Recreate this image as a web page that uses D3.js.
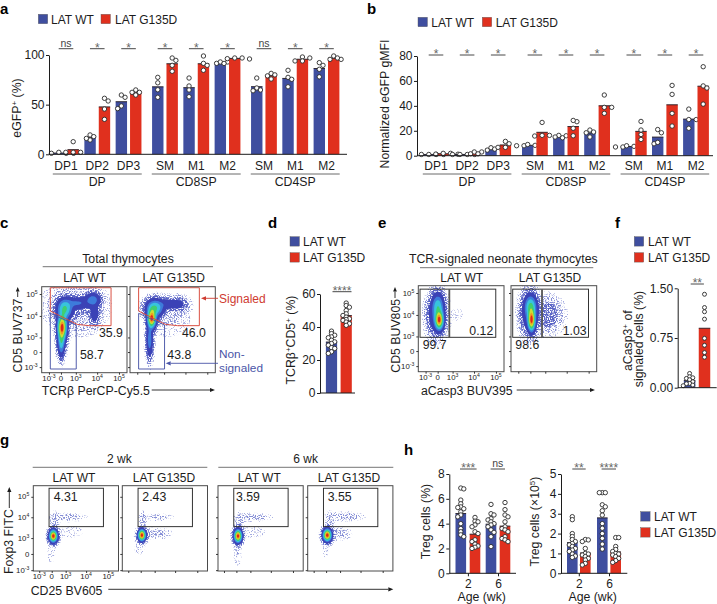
<!DOCTYPE html>
<html><head><meta charset="utf-8">
<script src="https://cdn.jsdelivr.net/npm/d3@7"></script>
<style>
html,body{margin:0;padding:0;background:#fff}
svg{display:block;font-family:"Liberation Sans",Arial,sans-serif}
text{fill:#1c1c1c}
</style></head><body><svg id="fig" width="717" height="604" viewBox="0 0 717 604"></svg>
<script>
// ---------- data ----------
const seriesNames = ["LAT WT","LAT G135D"];
const subsetLabels = ["DP1","DP2","DP3","SM","M1","M2","SM","M1","M2"];
const subsetGroups = ["DP","CD8SP","CD4SP"];

const gfpPctWT = [[1,2,1,1],[19.5,14.4,17.8,16],[57.4,59.7,46,48.7],[77.5,72,65,57.4],[76.8,68.8,64.8,58],[91.6,93,93,91.5],[76.8,66.8,64,64.8],[84.6,77.5,75.5,68],[89.6,92.3,85.6,78]];
const gfpPctG  = [[12.7,2,2,2],[53.7,56.4,45.6,35.2],[64.8,59.7,62.4,62.4],[94.6,97,89.6,83.6],[99,91.6,89.6,84.6],[96.3,97,97,96],[81.5,80,79,75.8],[98,94,94,97],[99,95.6,95.6,97]];
const gfpPctSig = ["ns","*","*","*","*","*","ns","*","*"];

const gmfiWT = [[1,1,1,1],[1,1,1,1],[4.5,6.4,5.3,4.5],[8,9,8.3,8],[14.4,16.3,16,15],[20.6,18.4,19,15],[7,8,7.5,7],[18.4,21,9.6,10.7],[37.4,29,29,22]];
const gmfiG  = [[1.3,1.9,1.9,1.2],[1.5,3,3,1.5],[9.6,11.5,6.7,6.7],[26.7,15.8,16.3,16.3],[27.3,28.3,22,16],[48.7,38.8,38.8,34],[27.5,20.6,17,13],[56.4,49.2,34,23.8],[71.4,56,54.3,41.4]];
const gmfiSig = ["*","*","*","*","*","*","*","*","*"];

const signaledWT = [37.5,36,35,34,33.5,32,31,30,29,27.5,27,25,24];
const signaledG  = [54.5,53,52,50,48,47,46,45,44.5,44,43,42,41];

const casp3WT = [.215,.165,.15,.14,.12,.09,.065,.06,.04,.03];
const casp3G  = [1.41,1.21,1.146,1.035,.745,.64,.53,.46];

const ageLabels = ["2","6"];
const tregPctWT2 = [6.87,6.8,5.9,5.6,5.35,5.3,5.2,4.95,4.7,4.55,4,3.6,3.35,3.1,2.95];
const tregPctG2  = [4.5,4.2,4.15,3.9,3.75,3.35,3.2,2.7,2.55,2.35,2.2,2.1,2.0];
const tregPctWT6 = [5.55,4.8,4.7,4.4,4.3,4.15,4,3.9,3.75,3.5,3.3,2.95,2.15];
const tregPctG6  = [5.7,5.13,4.7,4.55,4.15,3.75,3.6,3.5,3.35,2.95,2.8,2.7,2.55];
const tregNumWT2 = [2.85,2.7,2,1.85,1.7,1.6,1.5,1.43,1.35,1.25,1.17,1.1,.97,.87,.8];
const tregNumG2  = [1.7,1.68,1.6,1.25,1,.97,.92,.84,.75,.67,.5,.42];
const tregNumWT6 = [4.06,4.06,4.06,3.45,3.35,3.15,2.93,2.5,2.27,2,1.76,1.47,1.22];
const tregNumG6  = [1.8,1.8,1.35,1.2,1.1,1,.97,.92,.84,.75,.64,.55];

// flow cytometry density components on a 0-100 display channel: [x, y, sdX, sdY, weight]
const flowTCR_WT = [[24,53,3,8,1],[23,36,2.4,9,.34],[27,74,5,6.5,.42],[42,81,9,4,.14],[60,85,5,4.5,.19],[62,69,3.2,7,.09],[45,62,13,11,.006],[38,78,22,14,.01]];
const flowTCR_G  = [[25.5,63,2.8,6,1],[23,38,2.2,11,.2],[29,75,5.6,5.5,.42],[46,80,9,3.6,.1],[59,79,5,5,.03],[45,65,16,14,.005]];
const flowCasp_WT = [[24.5,60,2.8,6,1],[23,76,3.8,8,.32],[21,66,5.6,12.5,.14],[47,66,9,13,.0016]];
const flowCasp_G  = [[24,60,2.4,7,1],[23,76,3.8,7,.38],[22,68,5.6,12.5,.15],[43,66,7,10,.03],[47,66,11,13,.006]];
const flowFox_WT1 = [[23.5,41,2.6,3.9,1],[25,58,2.6,6,.011],[41,63,12,2.8,.0075],[43,46,11,5,.003],[21,22,3.5,9,.003]];
const flowFox_G1  = [[23,42,2.4,3.6,1],[24,60,2.2,5.5,.009],[42,63,11,2.6,.005],[38,44,12,4,.006],[20,26,7,9,.0016]];
const flowFox_WT2 = [[23.5,41,2.5,4.1,1],[25,58,2.6,6,.011],[42,63,12,2.8,.007],[40,46,11,5,.003],[23,20,3,9,.004]];
const flowFox_G2  = [[23,42,2.7,3.9,1],[26,58,2.8,6,.01],[45,64,12,3,.008],[36,44,9,4.5,.007],[21,24,3,8,.002]];

// gates in display channels
const gateSignaled = [[10.1,98.8],[81.3,98.8],[81.3,54.7],[55.6,54.7],[41.6,56.2],[10.1,71.7]];
const gateNonSignaled = [[10.1,69],[40.5,55.4],[40.5,4.3],[10.1,4.3]];
const gateCasp = {x0:2,x1:90.4,y0:40,y1:96,split:36.2};
const gateFox = {x0:18.5,x1:82.3,y0:52,y1:97};

const tickDecades = ["10^-3^","0","10^3^","10^4^","10^5^"];
const ticksXThy = [8.5,22.6,40,65,90.6], ticksYThy = [6.5,24,41,66,91.5];
const ticksXFox = [7,21.6,38,62,88], ticksYFox = [1,20,38.6,63,87];

// ---------- helpers ----------
const BLUE="#3f4e9f", RED="#e0301e", INK="#1c1c1c";
const svg=d3.select("#fig");
const defs=svg.append("defs");
function grain(id,offset){
  const f=defs.append("filter").attr("id",id).attr("filterUnits","userSpaceOnUse")
    .attr("x",0).attr("y",0).attr("width",717).attr("height",604).attr("color-interpolation-filters","sRGB");
  f.append("feTurbulence").attr("type","fractalNoise").attr("baseFrequency",.85).attr("numOctaves",2).attr("seed",7).attr("result","n");
  f.append("feColorMatrix").attr("in","n").attr("type","matrix")
    .attr("values",`0 0 0 0 0 0 0 0 0 0 0 0 0 0 0 0 0 0 7 ${offset}`).attr("result","a");
  f.append("feComposite").attr("in","SourceGraphic").attr("in2","a").attr("operator","in").attr("result","c");
  f.append("feGaussianBlur").attr("in","c").attr("stdDeviation",.3);
}
grain("sparse",-3.9); grain("mid",-3.3); grain("dense",-2.6);
defs.append("filter").attr("id","soft").attr("filterUnits","userSpaceOnUse").attr("x",0).attr("y",0).attr("width",717).attr("height",604)
  .append("feGaussianBlur").attr("stdDeviation",.45);

function rich(sel,str){
  str.split("^").forEach((s,i)=>{ if(!s) return;
    const t=sel.append("tspan").text(s);
    if(i%2){ t.attr("baseline-shift","super").attr("font-size","65%"); }
  });
  return sel;
}
function T(x,y,str,o={}){
  const e=svg.append("text").attr("x",x).attr("y",y).attr("font-size",o.size||12.3)
    .attr("text-anchor",o.anchor||"start");
  if(o.fill) e.style("fill",o.fill);
  if(o.weight) e.attr("font-weight",o.weight);
  if(o.rot!=null) e.attr("transform",`rotate(${o.rot} ${x} ${y})`);
  rich(e,str); return e;
}
function L(x1,y1,x2,y2,c="#444",w=1){
  return svg.append("line").attr("x1",x1).attr("y1",y1).attr("x2",x2).attr("y2",y2).attr("stroke",c).attr("stroke-width",w);
}
function arrow(x1,y1,x2,y2,c=INK,w=.9,s=5){
  const a=Math.atan2(y2-y1,x2-x1),bx=x2-s*Math.cos(a),by=y2-s*Math.sin(a),n=s*.42;
  L(x1,y1,bx,by,c,w);
  svg.append("path").attr("d",`M${x2},${y2}L${bx-n*Math.sin(a)},${by+n*Math.cos(a)}L${bx+n*Math.sin(a)},${by-n*Math.cos(a)}Z`).attr("fill",c);
}
function panel(x,y,s){T(x,y,s,{size:15,weight:"bold"}).style("fill","#000");}
function legendH(items){items.forEach(d=>{
  svg.append("rect").attr("x",d.x).attr("y",d.y).attr("width",9.4).attr("height",9.4).attr("fill",d.c).attr("stroke","#555").attr("stroke-width",.4);
  T(d.x+d.dx,d.y+9.6,d.s,{size:12});
});}
function dodge(vals,yS,step,sep){
  const placed=[];
  const order=vals.map((v,i)=>[v,i]).sort((a,b)=>b[0]-a[0]);
  const offs=new Array(vals.length).fill(0);
  let side=1;
  order.forEach(([v,i])=>{
    const py=yS(v);
    for(let k=0;k<12;k++){
      const cand=k===0?[0]:[side*k*step,-side*k*step];
      const hit=cand.find(o=>placed.every(p=>Math.hypot(p[0]-o,p[1]-py)>=sep));
      if(hit!==undefined){offs[i]=hit;placed.push([hit,py]);if(hit)side=-side;break;}
    }
  });
  return offs;
}
function drawBars(g,centers,groupsOfVals,colors,yS,bw,r,step,sep){
  const base=yS(0);
  groupsOfVals.forEach((vals,i)=>{
    const m=d3.mean(vals),cx=centers[i];
    g.append("rect").attr("x",cx-bw/2).attr("width",bw).attr("y",yS(m)).attr("height",base-yS(m)).attr("fill",colors[i]);
    g.append("line").attr("x1",cx-bw/2).attr("x2",cx+bw/2).attr("y1",yS(m)).attr("y2",yS(m)).attr("stroke","#201820").attr("stroke-width",.9);
    const off=dodge(vals,yS,step,sep);
    g.selectAll(null).data(vals).join("circle").attr("cx",(d,k)=>cx+off[k]).attr("cy",d=>yS(d)).attr("r",r)
      .attr("fill","#fff").attr("stroke","#2a2a2a").attr("stroke-width",.9);
  });
}
function yAxis(x,yS,ticks,fmt,size=12,tick=3){
  const g=svg.append("g").attr("transform",`translate(${x},0)`)
    .call(d3.axisLeft(yS).tickValues(ticks).tickFormat(fmt).tickSize(tick).tickSizeOuter(0));
  g.select(".domain").attr("stroke",INK).attr("stroke-width",1);
  g.selectAll(".tick line").attr("stroke",INK).attr("stroke-width",1);
  g.selectAll(".tick text").attr("font-size",size).attr("font-family","Liberation Sans").attr("x",-tick-1.5).style("fill",INK);
  return g;
}
function sigMark(cx,half,lineY,s){
  L(cx-half,lineY,cx+half,lineY,"#333",.9);
  if(/^\*+$/.test(s)) T(cx,lineY+3.2,s,{anchor:"middle",size:12}).style("fill","#666");
  else T(cx,lineY-2,s,{anchor:"middle",size:10.5}).style("fill","#444");
}

// ---------- grouped bar panels a, b ----------
function subsetPanel(o){
  const yS=d3.scaleLinear().domain([0,o.max]).range([o.y0,o.y1]);
  const slot=subsetLabels.map((_,i)=>i+Math.floor(i/3)*o.gap);
  const xS=d3.scaleLinear().domain([0,slot[8]]).range([o.xa,o.xb]);
  const g=svg.append("g");
  subsetLabels.forEach((_,i)=>{
    const c=xS(slot[i]);
    drawBars(g,[c-7.2,c+7.2],[o.wt[i],o.g[i]],[BLUE,RED],yS,11.4,2.2,3.7,3.85);
    T(c,170,subsetLabels[i],{anchor:"middle",size:12});
    sigMark(c,7.3,o.sigY,o.sig[i]);
  });
  subsetGroups.forEach((s,k)=>{
    const a=xS(slot[k*3]),b=xS(slot[k*3+2]);
    L(a-7.2-6,174,b+7.2+6,174,"#444",.8);
    T((a+b)/2,186,s,{anchor:"middle"});
  });
  L(o.axisX,o.y0,o.end,o.y0,INK,1);
  yAxis(o.axisX,yS,o.ticks,d3.format("d"));
}
subsetPanel({wt:gfpPctWT,g:gfpPctG,sig:gfpPctSig,max:100,y0:154.3,y1:55,xa:66,xb:326.5,gap:.165,axisX:49,end:347,sigY:48.7,ticks:[0,50,100]});
subsetPanel({wt:gmfiWT,g:gmfiG,sig:gmfiSig,max:80,y0:155.7,y1:56,xa:436,xb:696,gap:.18,axisX:417,end:713,sigY:55,ticks:[0,20,40,60,80]});
T(20.5,108,"eGFP^+^ (%)",{rot:-90,anchor:"middle"});
T(389,104,"Normalized eGFP gMFI",{rot:-90,anchor:"middle"});
legendH([{x:38.3,y:14.3,c:BLUE,s:seriesNames[0],dx:12.7},{x:101,y:14.3,c:RED,s:seriesNames[1],dx:14}]);
legendH([{x:418,y:17.3,c:BLUE,s:seriesNames[0],dx:13.3},{x:482.3,y:17.3,c:RED,s:seriesNames[1],dx:13.4}]);
panel(0,13.6,"a");panel(367,13.6,"b");panel(0,228,"c");panel(268,228,"d");panel(378,228,"e");panel(615,228,"f");panel(0,445,"g");panel(404,455,"h");

// ---------- flow plots ----------
const densityLevels=[
 {t:.0012,c:"#a4abe0",f:"sparse"},
 {t:.0035,c:"#858ed6",f:"mid"},
 {t:.012,c:"#5a64c6",f:"dense"},
 {t:.04,c:"#3a42b6"},
 {t:.13,c:"#3e7cdb"},
 {t:.23,c:"#38c4dc"},
 {t:.38,c:"#3fcf70"},
 {t:.56,c:"#cfdc30"},
 {t:.73,c:"#f09a20"},
 {t:.88,c:"#de2618"}];
let clipN=0;
function flowPlot(o){
  const xS=d3.scaleLinear().domain([0,100]).range([o.x,o.x+o.w]);
  const yS=d3.scaleLinear().domain([0,100]).range([o.y+o.h,o.y]);
  const n=100,grid=new Float64Array(n*n);
  for(let j=0;j<n;j++)for(let i=0;i<n;i++){
    let s=0;
    for(const [cx,cy,sx,sy,w] of o.blobs){
      const dx=(i+.5-cx)/sx,dy=(j+.5-cy)/sy;
      s+=w*Math.exp(-.5*(dx*dx+dy*dy));
    }
    grid[i+j*n]=s;
  }
  const mx=d3.max(grid);
  const path=d3.geoPath(d3.geoTransform({point(x,y){this.stream.point(xS(x),yS(y));}}));
  const contour=d3.contours().size([n,n]);
  const id="clip"+(clipN++);
  defs.append("clipPath").attr("id",id).append("rect").attr("x",o.x).attr("y",o.y).attr("width",o.w).attr("height",o.h);
  const root=svg.append("g").attr("clip-path",`url(#${id})`);
  const solid=[];
  densityLevels.forEach(l=>{
    const d=path(contour.contour(grid,l.t*mx));
    if(!d) return;
    if(l.f) root.append("path").attr("d",d).attr("fill",l.c).attr("filter",`url(#${l.f})`);
    else solid.push([d,l.c]);
  });
  const sg=root.append("g").attr("filter","url(#soft)");
  solid.forEach(([d,c])=>sg.append("path").attr("d",d).attr("fill",c));
  // gates
  (o.polys||[]).forEach(p=>{
    svg.append("path").attr("d",d3.line().x(d=>xS(d[0])).y(d=>yS(d[1])).curve(d3.curveLinearClosed)(p.pts))
      .attr("fill","none").attr("stroke",p.c).attr("stroke-width",.95);
  });
  if(o.rect){const r=o.rect;
    svg.append("rect").attr("x",xS(r.x0)).attr("y",yS(r.y1)).attr("width",xS(r.x1)-xS(r.x0)).attr("height",yS(r.y0)-yS(r.y1))
      .attr("fill","none").attr("stroke","#2a2a2a").attr("stroke-width",.95);
    if(r.split!=null) L(xS(r.split),yS(r.y0),xS(r.split),yS(r.y1),"#555",1.8);
  }
  // frame
  svg.append("rect").attr("x",o.x).attr("y",o.y).attr("width",o.w).attr("height",o.h).attr("fill","none").attr("stroke","#4a4a4a").attr("stroke-width",1);
  // axes
  const ax=svg.append("g").attr("transform",`translate(0,${o.y+o.h})`)
     .call(d3.axisBottom(xS).tickValues(o.tx).tickFormat("").tickSize(2).tickSizeOuter(0));
  const ay=svg.append("g").attr("transform",`translate(${o.x},0)`)
     .call(d3.axisLeft(yS).tickValues(o.ty).tickFormat("").tickSize(2).tickSizeOuter(0));
  [ax,ay].forEach(a=>{a.select(".domain").remove();a.selectAll(".tick line").attr("stroke","#222").attr("stroke-width",.9);});
  if(o.labels){
    o.tx.forEach((v,i)=>T(xS(v),o.y+o.h+8.2,tickDecades[i],{anchor:"middle",size:7.8}));
    o.ty.forEach((v,i)=>T(o.x-4,yS(v)+2.7,tickDecades[i],{anchor:"end",size:7.8}));
  }
}
// c
flowPlot({x:41.7,y:286.7,w:85.3,h:86,blobs:flowTCR_WT,tx:ticksXThy,ty:ticksYThy,labels:true,polys:[{pts:gateSignaled,c:"#d8483a"},{pts:gateNonSignaled,c:"#4a55a8"}]});
flowPlot({x:130,y:286.7,w:85.3,h:86,blobs:flowTCR_G,tx:ticksXThy,ty:ticksYThy,polys:[{pts:gateSignaled,c:"#d8483a"},{pts:gateNonSignaled,c:"#4a55a8"}]});
T(128,262.7,"Total thymocytes",{anchor:"middle"});
L(42.7,266.7,213,266.7,"#666",.9);
T(84.7,281.7,seriesNames[0],{anchor:"middle",size:12});T(173.7,281.7,seriesNames[1],{anchor:"middle",size:12});
T(99,336.7,"35.9");T(80,359,"58.7");T(182,336.7,"46.0");T(167.3,359,"43.8");
T(219,303,"Signaled",{fill:"#cf3b30",size:12});
arrow(218,298.3,201,298.3,"#cf3b30");
T(219,358,"Non-",{fill:"#4a55a8",size:11.8});
T(219,371.6,"signaled",{fill:"#4a55a8",size:11.8});
arrow(218,363.3,165.7,363.3,"#4a55a8");
T(22,372.5,"CD5 BUV737",{rot:-90});
arrow(17.7,297,17.7,287,INK,.9,4.5);
T(41.7,395,"TCRβ PerCP-Cy5.5");
arrow(151.7,390,215,390,INK);

// d
{
  const yS=d3.scaleLinear().domain([0,60]).range([393,294]);
  const g=svg.append("g");
  drawBars(g,[331.5,346.2],[signaledWT,signaledG],[BLUE,RED],yS,11.2,2.2,3.2,2.3);
  L(320,393,355,393,INK,1);
  yAxis(320,yS,[0,20,40,60],d3.format("d"));
  sigMark(342,9.5,291.7,"****");
  T(295,340,"TCRβ^+^CD5^+^ (%)",{rot:-90,anchor:"middle"});
  legendH([{x:290,y:236.7,c:BLUE,s:seriesNames[0],dx:13},{x:290,y:252.7,c:RED,s:seriesNames[1],dx:13}]);
}
// e
flowPlot({x:418.3,y:285.7,w:85.7,h:86,blobs:flowCasp_WT,tx:ticksXThy,ty:ticksYThy,labels:true,rect:gateCasp});
flowPlot({x:511,y:285.7,w:85.7,h:86,blobs:flowCasp_G,tx:ticksXThy,ty:ticksYThy,rect:gateCasp});
T(503.3,262.7,"TCR-signaled neonate thymocytes",{anchor:"middle"});
L(420,267.7,593.3,267.7,"#777",1);
T(461.7,281.7,seriesNames[0],{anchor:"middle",size:12});T(550,281.7,seriesNames[1],{anchor:"middle",size:12});
T(469.3,335,"0.12");T(422.7,349.3,"99.7");T(562.7,335,"1.03");T(515.3,349.3,"98.6");
T(400,372.7,"CD5 BUV805",{rot:-90});
arrow(395,298,395,287,INK,.9,4.5);
T(421,395,"aCasp3 BUV395");
arrow(516.7,390,595,390,INK);

// f
{
  const yS=d3.scaleLinear().domain([0,1.5]).range([387.7,288.3]);
  const g=svg.append("g");
  drawBars(g,[689.6,704.5],[casp3WT,casp3G],[BLUE,RED],yS,11.5,2,3.2,2.4);
  L(677.7,387.7,716.7,387.7,INK,1);
  yAxis(677.7,yS,[0,.75,1.5],d3.format(".2f"));
  sigMark(697.3,6.6,284,"**");
  T(632,340.7,"aCasp3^+^ of",{rot:-90,anchor:"middle"});
  T(642.5,339,"signaled cells (%)",{rot:-90,anchor:"middle"});
  legendH([{x:634.3,y:236.7,c:BLUE,s:seriesNames[0],dx:13.7},{x:634.3,y:252.7,c:RED,s:seriesNames[1],dx:13.7}]);
}
// g
const foxPlots=[[33.3,flowFox_WT1,"4.31",53.7,true],[122.3,flowFox_G1,"2.43",142.3,false],[218,flowFox_WT2,"3.59",236,false],[307.7,flowFox_G2,"3.55",327.7,false]];
foxPlots.forEach(p=>{
  flowPlot({x:p[0],y:485.7,w:85.2,h:85.3,blobs:p[1],tx:ticksXFox,ty:ticksYFox,labels:p[4],rect:gateFox});
  T(p[3],501,p[2]);
});
T(119.3,462.7,"2 wk",{anchor:"middle",size:12});T(305.7,462.7,"6 wk",{anchor:"middle",size:12});
L(32.7,467.3,207.3,467.3,"#666",.9);L(218.3,467.3,393.3,467.3,"#666",.9);
[[74,0],[164,1],[259.3,0],[349,1]].forEach(d=>T(d[0],482.3,seriesNames[d[1]],{anchor:"middle",size:12}));
T(13.3,574,"Foxp3 FITC",{rot:-90});
arrow(9.3,508,9.3,487,INK);
T(30.7,595,"CD25 BV605");
arrow(108.3,589.3,393.3,589.3,INK);

// h
function tregPanel(o){
  const yS=d3.scaleLinear().domain([0,o.max]).range([573.3,474]);
  const g=svg.append("g");
  drawBars(g,o.cx,o.vals,[BLUE,RED,BLUE,RED],yS,10.6,2.2,3,2.5);
  const pos=[(o.cx[0]+o.cx[1])/2,(o.cx[2]+o.cx[3])/2];
  const ax=d3.scaleOrdinal().domain(ageLabels).range(pos);
  const xg=svg.append("g").attr("transform","translate(0,573.3)")
    .call(d3.axisBottom(ax).tickSize(3).tickSizeOuter(0).tickPadding(3));
  xg.select(".domain").remove();
  xg.selectAll(".tick line").attr("stroke",INK);
  xg.selectAll(".tick text").attr("font-size",12).attr("font-family","Liberation Sans").style("fill",INK);
  L(o.axis,573.3,o.end,573.3,INK,1);
  yAxis(o.axis,yS,o.ticks,d3.format("d"));
  o.sig.forEach((s,i)=>sigMark(o.sigX[i],o.sigH[i],469,s));
  T(o.ageX,601,"Age (wk)",{anchor:"middle"});
  T(o.titleX,521.5,o.title,{rot:-90,anchor:"middle"});
}
tregPanel({max:8,axis:449.3,end:516,cx:[460.8,475,491,505],vals:[tregPctWT2,tregPctG2,tregPctWT6,tregPctG6],ticks:[0,2,4,6,8],sig:["***","ns"],sigX:[468.3,497.8],sigH:[8.3,7.2],ageX:481.7,titleX:430,title:"Treg cells (%)"});
tregPanel({max:5,axis:561,end:627.3,cx:[572.3,585.3,602.3,615.7],vals:[tregNumWT2,tregNumG2,tregNumWT6,tregNumG6],ticks:[0,1,2,3,4,5],sig:["**","****"],sigX:[579,608.8],sigH:[6.7,7.2],ageX:592.7,titleX:539,title:"Treg cells (×10^5^)"});
legendH([{x:640.7,y:511.7,c:BLUE,s:seriesNames[0],dx:13.3},{x:640.7,y:527.7,c:RED,s:seriesNames[1],dx:13.3}]);
</script></body></html>
